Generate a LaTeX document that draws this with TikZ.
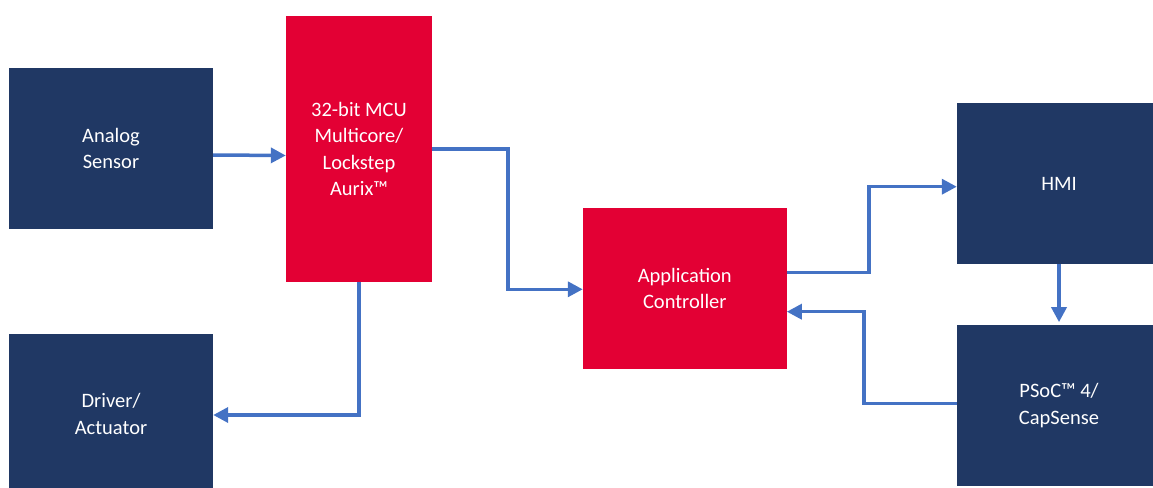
\documentclass[tikz,border=0pt]{standalone}
\usepackage{fontspec}
\setmainfont{Carlito}
\usetikzlibrary{arrows.meta}
\definecolor{navy}{HTML}{203864}
\definecolor{ifxred}{HTML}{E30034}
\definecolor{arrowblue}{HTML}{4472C4}
\begin{document}
\begin{tikzpicture}[x=1pt,y=-1pt,
  blk/.style={draw=none, inner sep=0pt, align=center, text=white,
    font=\fontsize{20.5}{26.5}\selectfont},
  navyblk/.style={blk, fill=navy},
  redblk/.style={blk, fill=ifxred},
  conn/.style={draw=arrowblue, line width=3.5pt,
    -{Triangle[length=15pt,width=15pt]}}]
\useasboundingbox (0,0) rectangle (1153,487);
\clip (0,0) rectangle (1153,487);
\node[navyblk, minimum width=204pt, minimum height=160.7pt] (as) at (111,148.3) {Analog\\Sensor};
\node[redblk, minimum width=146pt, minimum height=265.7pt] (mcu) at (359,148.8) {32-bit MCU\\Multicore/\\Lockstep\\Aurix™};
\node[navyblk, minimum width=204pt, minimum height=160pt] (drv) at (111,414) {Driver/\\Actuator};
\node[redblk, minimum width=203.7pt, minimum height=160.7pt] (app) at (684.8,288.3) {Application\\Controller};
\node[navyblk, minimum width=204pt, minimum height=160.7pt] (hmi) at (1059,183.7) {HMI};
\node[navyblk, minimum width=204pt, minimum height=160.7pt] (psoc) at (1059,405.7) {PSoC™ 4/\\CapSense};

\draw[conn] ([yshift=-6.7pt]as.east) -- ([yshift=-6.7pt]mcu.west);
\draw[conn] (mcu.east) -| ([xshift=-75pt,yshift=-1pt]app.west) -- ([yshift=-1pt]app.west);
\draw[conn] (mcu.south) |- ([yshift=-1pt]drv.east);
\draw[conn] ([yshift=15.6pt]app.east) -| ([xshift=-87.7pt,yshift=-3pt]hmi.west) -- ([yshift=-3pt]hmi.west);
\draw[conn] (hmi.south) -- ([yshift=3pt]psoc.north);
\draw[conn] ([yshift=2.4pt]psoc.west) -| ([xshift=77.3pt,yshift=-23.4pt]app.east) -- ([yshift=-23.4pt]app.east);
\end{tikzpicture}
\end{document}
